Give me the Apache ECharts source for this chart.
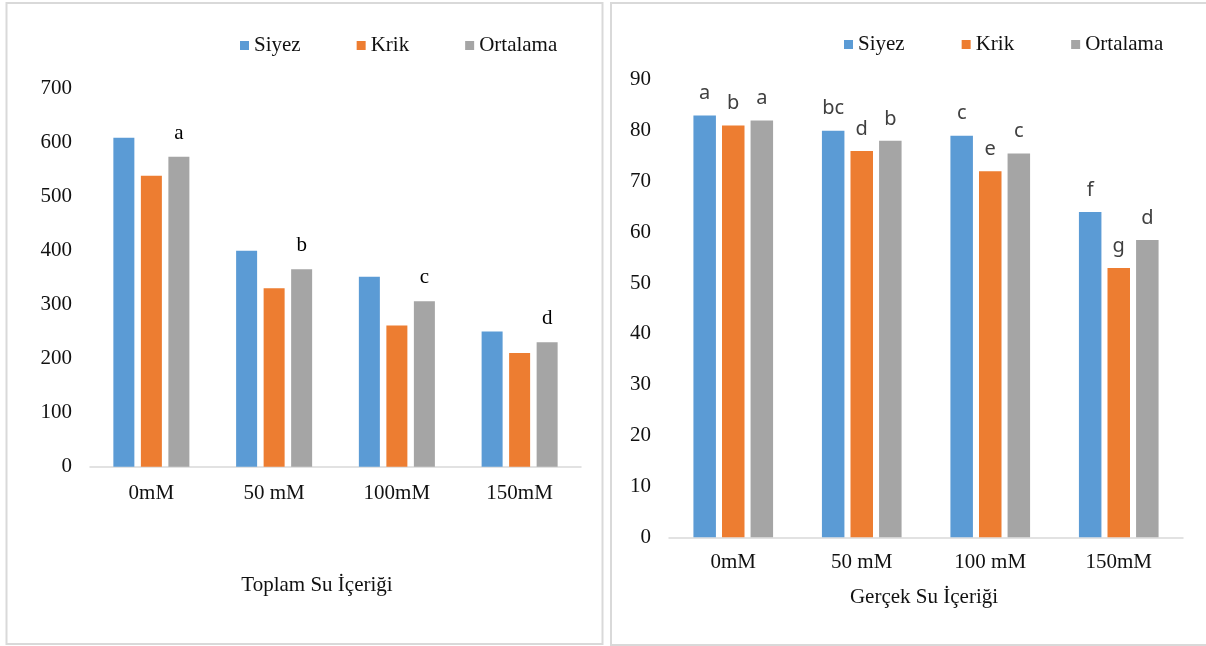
<!DOCTYPE html>
<html>
<head>
<meta charset="utf-8">
<script src="https://cdn.jsdelivr.net/npm/echarts@6/dist/echarts.min.js"></script>
<style>
  html, body { margin: 0; padding: 0; background: #fff; }
  #main { width: 1206px; height: 646px; }
</style>
</head>
<body>
<div id="main"></div>
<script>
// categories / series
var seriesNames = ['Siyez', 'Krik', 'Ortalama'];
var colors = ['#5B9BD5', '#ED7D31', '#A5A5A5'];

var toplamCats = ['0mM', '50 mM', '100mM', '150mM'];
var toplamSiyez = [608, 399, 351, 250];
var toplamKrik = [538, 330, 261, 210];
var toplamOrtalama = [573, 365, 306, 230];
var toplamLetters = ['a', 'b', 'c', 'd'];   // only on Ortalama

var gercekCats = ['0mM', '50 mM', '100 mM', '150mM'];
var gercekSiyez = [83, 80, 79, 64];
var gercekKrik = [81, 76, 72, 53];
var gercekOrtalama = [82, 78, 75.5, 58.5];
var gercekSiyezLetters = ['a', 'bc', 'c', 'f'];
var gercekKrikLetters = ['b', 'd', 'e', 'g'];
var gercekOrtalamaLetters = ['a', 'b', 'c', 'd'];

var serif = '"Liberation Serif", "Times New Roman", serif';
var sans = '"Noto Sans", "Open Sans", sans-serif';
var txtColor = '#111';

function letterLabel(arr, font, size, color, dist) {
	return {
		show: true,
		position: 'top',
		distance: dist,
		fontFamily: font,
		fontSize: size,
		color: color,
		formatter: function (p) { return arr[p.dataIndex]; }
	};
}

function bar(name, idx, data, label, bw, gap) {
	var s = {
		name: name,
		type: 'bar',
		xAxisIndex: idx,
		yAxisIndex: idx,
		data: data,
		barWidth: bw,
		barGap: gap,
		itemStyle: { color: colors[seriesNames.indexOf(name)] }
	};
	if (label) s.label = label;
	return s;
}

var myChart = echarts.init(document.getElementById('main'));

var option = {
	animation: false,
	backgroundColor: '#fff',
	legend: [{
		data: seriesNames,
		left: 235, top: 30,
		icon: 'rect', itemWidth: 9, itemHeight: 9, itemGap: 56,
		textStyle: { fontFamily: serif, fontSize: 21, color: txtColor }
	}, {
		data: seriesNames,
		left: 839, top: 29,
		icon: 'rect', itemWidth: 9, itemHeight: 9, itemGap: 57,
		textStyle: { fontFamily: serif, fontSize: 21, color: txtColor }
	}],
	grid: [
		{ left: 90, top: 88, width: 491, height: 378.7 },
		{ left: 669, top: 79.8, width: 514, height: 457.5 }
	],
	xAxis: [{
		type: 'category', gridIndex: 0, data: toplamCats,
		axisLine: { lineStyle: { color: '#D9D9D9', width: 1.5 } },
		axisTick: { show: false },
		axisLabel: { margin: 16, fontFamily: serif, fontSize: 21, color: txtColor }
	}, {
		type: 'category', gridIndex: 1, data: gercekCats,
		axisLine: { lineStyle: { color: '#D9D9D9', width: 1.5 } },
		axisTick: { show: false },
		axisLabel: { margin: 15, fontFamily: serif, fontSize: 21, color: txtColor }
	}],
	yAxis: [{
		type: 'value', gridIndex: 0, min: 0, max: 700, interval: 100,
		axisLine: { show: false }, axisTick: { show: false }, splitLine: { show: false },
		axisLabel: { margin: 18, fontFamily: serif, fontSize: 21, color: txtColor }
	}, {
		type: 'value', gridIndex: 1, min: 0, max: 90, interval: 10,
		axisLine: { show: false }, axisTick: { show: false }, splitLine: { show: false },
		axisLabel: { margin: 18, fontFamily: serif, fontSize: 21, color: txtColor }
	}],
	series: [
		bar('Siyez', 0, toplamSiyez, null, 21, '31%'),
		bar('Krik', 0, toplamKrik, null, 21, '31%'),
		bar('Ortalama', 0, toplamOrtalama, letterLabel(toplamLetters, serif, 21, '#000', 13), 21, '31%'),
		bar('Siyez', 1, gercekSiyez, letterLabel(gercekSiyezLetters, sans, 20, '#404040', 12), 22.5, '27%'),
		bar('Krik', 1, gercekKrik, letterLabel(gercekKrikLetters, sans, 20, '#404040', 12), 22.5, '27%'),
		bar('Ortalama', 1, gercekOrtalama, letterLabel(gercekOrtalamaLetters, sans, 20, '#404040', 12), 22.5, '27%')
	],
	graphic: [
		{ type: 'rect', shape: { x: 6.5, y: 3, width: 596, height: 641 },
		  style: { fill: 'none', stroke: '#D9D9D9', lineWidth: 2 } },
		{ type: 'rect', shape: { x: 611, y: 3, width: 600, height: 642 },
		  style: { fill: 'none', stroke: '#D9D9D9', lineWidth: 2 } },
		{ type: 'text', x: 317, y: 585,
		  style: { text: 'Toplam Su İçeriği', font: '21px ' + serif, fill: txtColor, textAlign: 'center', textVerticalAlign: 'middle' } },
		{ type: 'text', x: 924, y: 597,
		  style: { text: 'Gerçek Su İçeriği', font: '21px ' + serif, fill: txtColor, textAlign: 'center', textVerticalAlign: 'middle' } }
	]
};

myChart.setOption(option);
</script>
</body>
</html>
